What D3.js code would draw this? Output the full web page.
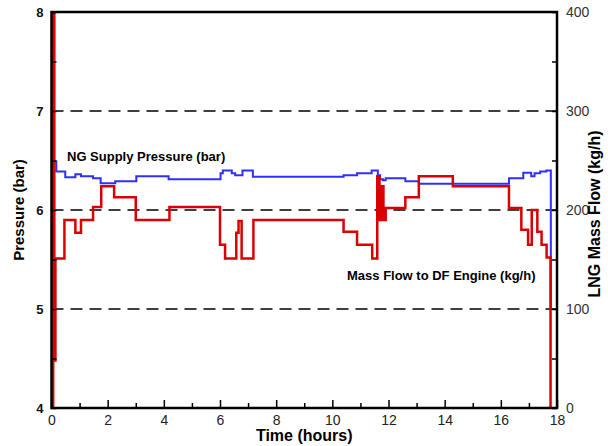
<!DOCTYPE html>
<html>
<head>
<meta charset="utf-8">
<script src="https://cdn.jsdelivr.net/npm/d3@7"></script>
<style>
  body { margin: 0; background: #fff; }
  text { font-family: "Liberation Sans", Arial, sans-serif; }
</style>
</head>
<body>
<div id="chart"></div>
<script>

// pressure at engine inlet (bar), step values starting at each time
var pressTime = [0.08, 0.17, 0.49, 0.85, 1.05, 1.48, 1.75, 2.27, 3.02, 4.17, 6.02, 6.1, 6.42, 6.54, 6.8, 7.17,
  10.4, 10.88, 11.4, 11.62, 11.7, 11.8, 11.9, 12.6, 13.08, 16.29, 16.8, 17.08, 17.2, 17.4, 17.62, 17.78, 17.79];
var pressValue = [6.49, 6.39, 6.33, 6.36, 6.34, 6.32, 6.27, 6.29, 6.34, 6.31, 6.37, 6.40, 6.37, 6.35, 6.40, 6.335,
  6.35, 6.37, 6.40, 6.35, 6.31, 6.30, 6.32, 6.29, 6.265, 6.32, 6.377, 6.34, 6.37, 6.39, 6.40, 5.0, 5.0];

// LNG mass flow (kg/h), step values starting at each time
var flowTime = [0, 0.06, 0.1, 0.14, 0.46, 0.85, 1.05, 1.48, 1.77, 2.23, 3.0, 4.2, 6.0, 6.18, 6.58, 6.66, 6.77, 7.19,
  10.4, 10.88, 11.42, 11.6, 11.68, 11.76, 11.82, 11.9, 12.6, 13.08, 14.29, 16.29, 16.73, 16.97,
  17.1, 17.3, 17.45, 17.63, 17.77, 17.8];
var flowValue = [0, 400, 48, 151, 190, 177, 190, 203, 224, 213, 190, 203, 165, 151, 177, 189, 151, 190,
  178, 165, 151, 234, 190, 224, 190, 202, 213, 234, 224, 202, 180, 165,
  200, 178, 165, 152, 0, 0];

var timeTicks = [0, 2, 4, 6, 8, 10, 12, 14, 16, 18];
var pressTicks = [4, 5, 6, 7, 8];
var flowTicks = [0, 100, 200, 300, 400];

var svgWidth = 608;
var svgHeight = 446;
var plot = { left: 51.5, right: 557, top: 12, bottom: 408 };

var svg = d3.select("#chart").append("svg")
  .attr("width", svgWidth)
  .attr("height", svgHeight);

var x = d3.scaleLinear().domain([0, 18]).range([plot.left, plot.right]);
var yP = d3.scaleLinear().domain([4, 8]).range([plot.bottom, plot.top]);
var yF = d3.scaleLinear().domain([0, 400]).range([plot.bottom, plot.top]);

// dashed grid lines
svg.append("g").selectAll("line")
  .data([5, 6, 7])
  .enter().append("line")
  .attr("x1", plot.left).attr("x2", plot.right)
  .attr("y1", d => yP(d)).attr("y2", d => yP(d))
  .attr("stroke", "#000")
  .attr("stroke-width", 1.5)
  .attr("stroke-dasharray", "12,7");

svg.append("clipPath").attr("id", "plotclip")
  .append("rect")
  .attr("x", plot.left).attr("y", plot.top - 1)
  .attr("width", plot.right - plot.left).attr("height", plot.bottom - plot.top + 2);

var pressLine = d3.line()
  .x(d => x(d[0]))
  .y(d => yP(d[1]))
  .curve(d3.curveStepAfter);

var flowLine = d3.line()
  .x(d => x(d[0]))
  .y(d => yF(d[1]))
  .curve(d3.curveStepAfter);

svg.append("path")
  .datum(pressTime.map((t, i) => [t, pressValue[i]]))
  .attr("d", pressLine)
  .attr("clip-path", "url(#plotclip)")
  .attr("fill", "none")
  .attr("stroke", "#2f2fff")
  .attr("stroke-width", 2);

svg.append("path")
  .datum(flowTime.map((t, i) => [t, flowValue[i]]))
  .attr("d", flowLine)
  .attr("clip-path", "url(#plotclip)")
  .attr("fill", "none")
  .attr("stroke", "#d80000")
  .attr("stroke-width", 2.5);

// axes, ticks pointing inward
function styleAxis(g) {
  g.select(".domain").remove();
  g.selectAll(".tick line").attr("stroke", "#000").attr("stroke-width", 1.5);
}

svg.append("g")
  .attr("transform", `translate(0,${plot.bottom})`)
  .call(d3.axisBottom(x).tickValues(d3.range(1, 18, 2)).tickSize(-5).tickFormat(""))
  .call(styleAxis);

svg.append("g")
  .attr("transform", `translate(0,${plot.bottom})`)
  .call(d3.axisBottom(x).tickValues(timeTicks).tickSize(-8).tickPadding(7).tickFormat(d3.format("d")))
  .call(styleAxis)
  .selectAll("text")
  .attr("font-size", 14)
  .attr("fill", "#222")
  .style("font-family", "'Liberation Sans Narrow', 'Liberation Sans', Arial, sans-serif");

svg.append("g")
  .attr("transform", `translate(${plot.left},0)`)
  .call(d3.axisLeft(yP).tickValues([4.5, 5.5, 6.5, 7.5]).tickSize(-5).tickFormat(""))
  .call(styleAxis);

svg.append("g")
  .attr("transform", `translate(${plot.left},0)`)
  .call(d3.axisLeft(yP).tickValues(pressTicks).tickSize(-5).tickPadding(8).tickFormat(d3.format("d")))
  .call(styleAxis)
  .selectAll("text")
  .attr("font-size", 13)
  .attr("font-weight", "bold")
  .attr("fill", "#111");

svg.append("g")
  .attr("transform", `translate(${plot.right},0)`)
  .call(d3.axisRight(yF).tickValues([50, 150, 250, 350]).tickSize(-5).tickFormat(""))
  .call(styleAxis);

svg.append("g")
  .attr("transform", `translate(${plot.right},0)`)
  .call(d3.axisRight(yF).tickValues(flowTicks).tickSize(-5).tickPadding(9).tickFormat(d3.format("d")))
  .call(styleAxis)
  .selectAll("text")
  .attr("font-size", 14)
  .attr("fill", "#333");

// frame
svg.append("rect")
  .attr("x", plot.left).attr("y", plot.top)
  .attr("width", plot.right - plot.left).attr("height", plot.bottom - plot.top)
  .attr("fill", "none")
  .attr("stroke", "#000")
  .attr("stroke-width", 2.5);

// titles
svg.append("text")
  .attr("x", (plot.left + plot.right) / 2)
  .attr("y", 441)
  .attr("text-anchor", "middle")
  .attr("font-size", 16)
  .attr("font-weight", "bold")
  .style("font-family", "'Liberation Sans Narrow', 'Liberation Sans', Arial, sans-serif")
  .text("Time (hours)");

svg.append("text")
  .attr("transform", `translate(24,${(plot.top + plot.bottom) / 2})rotate(-90)`)
  .attr("text-anchor", "middle")
  .attr("font-size", 15)
  .attr("font-weight", "bold")
  .text("Pressure (bar)");

svg.append("text")
  .attr("transform", `translate(600,${(plot.top + plot.bottom) / 2 + 4})rotate(-90)`)
  .attr("text-anchor", "middle")
  .attr("font-size", 16)
  .attr("font-weight", "bold")
  .text("LNG Mass Flow (kg/h)");

svg.append("text")
  .attr("x", 67).attr("y", 161)
  .attr("font-size", 13)
  .attr("font-weight", "bold")
  .text("NG Supply Pressure (bar)");

svg.append("text")
  .attr("x", 347).attr("y", 280)
  .attr("font-size", 13)
  .attr("font-weight", "bold")
  .text("Mass Flow to DF Engine (kg/h)");

</script>
</body>
</html>
